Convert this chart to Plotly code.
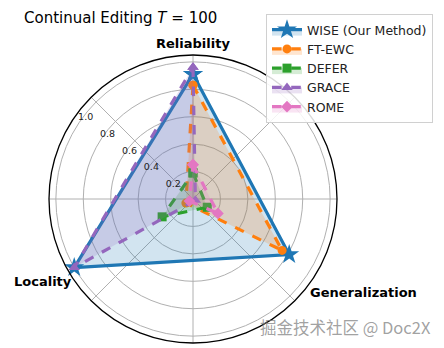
import plotly.graph_objects as go

# Editing metrics for each method (continual editing, T = 100)
metrics = ["Reliability", "Generalization", "Locality"]
methods = ["WISE (Our Method)", "FT-EWC", "DEFER", "GRACE", "ROME"]
wise = [0.91, 0.81, 1.00]
ft_ewc = [0.83, 0.75, 0.06]
defer = [0.19, 0.12, 0.26]
grace = [0.96, 0.02, 1.00]
rome = [0.25, 0.21, 0.03]
radial_ticks = [0.2, 0.4, 0.6, 0.8, 1.0]

series = [wise, ft_ewc, defer, grace, rome]
colors = ["#1f77b4", "#ff7f0e", "#2ca02c", "#9467bd", "#e377c2"]
fills = ["rgba(31,119,180,0.2)", "rgba(255,127,14,0.2)", "rgba(44,160,44,0.2)",
         "rgba(148,103,189,0.2)", "rgba(227,119,194,0.2)"]
symbols = ["star", "circle", "square", "triangle-up", "diamond"]
marker_sizes = [15, 9, 9, 10, 9]
dashes = ["solid", "dash", "dash", "dash", "dash"]

# Metric directions: Reliability on top, then clockwise every 120 degrees
angles = [90 - 120 * i for i in range(len(metrics))]
label_angle = 143

fig = go.Figure()
for name, vals, c, fc, sym, ms, dsh in zip(methods, series, colors, fills,
                                            symbols, marker_sizes, dashes):
    fig.add_trace(go.Scatterpolar(
        r=vals + vals[:1],
        theta=angles + angles[:1],
        mode="lines+markers",
        name=name,
        fill="toself",
        fillcolor=fc,
        line=dict(color=c, width=3.2, dash=dsh),
        marker=dict(symbol=sym, size=ms, color=c),
    ))

# Radial tick labels, kept horizontal along one direction
fig.add_trace(go.Scatterpolar(
    r=[v - 0.02 for v in radial_ticks],
    theta=[label_angle] * len(radial_ticks),
    mode="text",
    text=[f"{v:.1f}" for v in radial_ticks],
    textfont=dict(size=9.5, color="#222222", family="DejaVu Sans"),
    showlegend=False,
    hoverinfo="skip",
))

fig.update_layout(
    width=444,
    height=348,
    margin=dict(l=0, r=0, t=0, b=0),
    paper_bgcolor="white",
    font=dict(family="DejaVu Sans", color="black"),
    polar=dict(
        domain=dict(x=[49 / 444, 337 / 444], y=[5 / 348, 293 / 348]),
        bgcolor="white",
        angularaxis=dict(
            thetaunit="degrees",
            direction="counterclockwise",
            rotation=0,
            tickmode="array",
            tickvals=[0, 45, 90, 135, 180, 225, 270, 315],
            showticklabels=False,
            ticks="",
            gridcolor="#b0b0b0",
            gridwidth=0.8,
            showline=True,
            linecolor="black",
            linewidth=1.3,
        ),
        radialaxis=dict(
            range=[0, 1.05],
            tickmode="array",
            tickvals=radial_ticks,
            showticklabels=False,
            showline=False,
            ticks="",
            gridcolor="#b0b0b0",
            gridwidth=0.8,
        ),
    ),
    legend=dict(
        x=266 / 444, y=1 - 14 / 348, xanchor="left", yanchor="top",
        bgcolor="rgba(255,255,255,0.85)",
        bordercolor="#d0d0d0", borderwidth=1,
        font=dict(size=12.5, color="#222222"),
        tracegroupgap=0,
    ),
    showlegend=True,
)

annotations = [
    dict(text="Continual Editing <i>T</i> = 100", x=22 / 444, y=1 - 18 / 348,
         xanchor="left", yanchor="middle", font=dict(size=15)),
    dict(text="<b>Reliability</b>", x=193 / 444, y=1 - 43 / 348,
         xanchor="center", yanchor="middle", font=dict(size=13)),
    dict(text="<b>Generalization</b>", x=363 / 444, y=1 - 292 / 348,
         xanchor="center", yanchor="middle", font=dict(size=13)),
    dict(text="<b>Locality</b>", x=43 / 444, y=1 - 281 / 348,
         xanchor="center", yanchor="middle", font=dict(size=13)),
    dict(text="掘金技术社区 @ Doc2X", x=433 / 444, y=1 - 327 / 348,
         xanchor="right", yanchor="middle",
         font=dict(size=16.5, family="Noto Sans CJK SC", color="rgba(120,120,120,0.7)")),
]
for a in annotations:
    fig.add_annotation(xref="paper", yref="paper", showarrow=False, **a)

fig.write_html("out.html")
